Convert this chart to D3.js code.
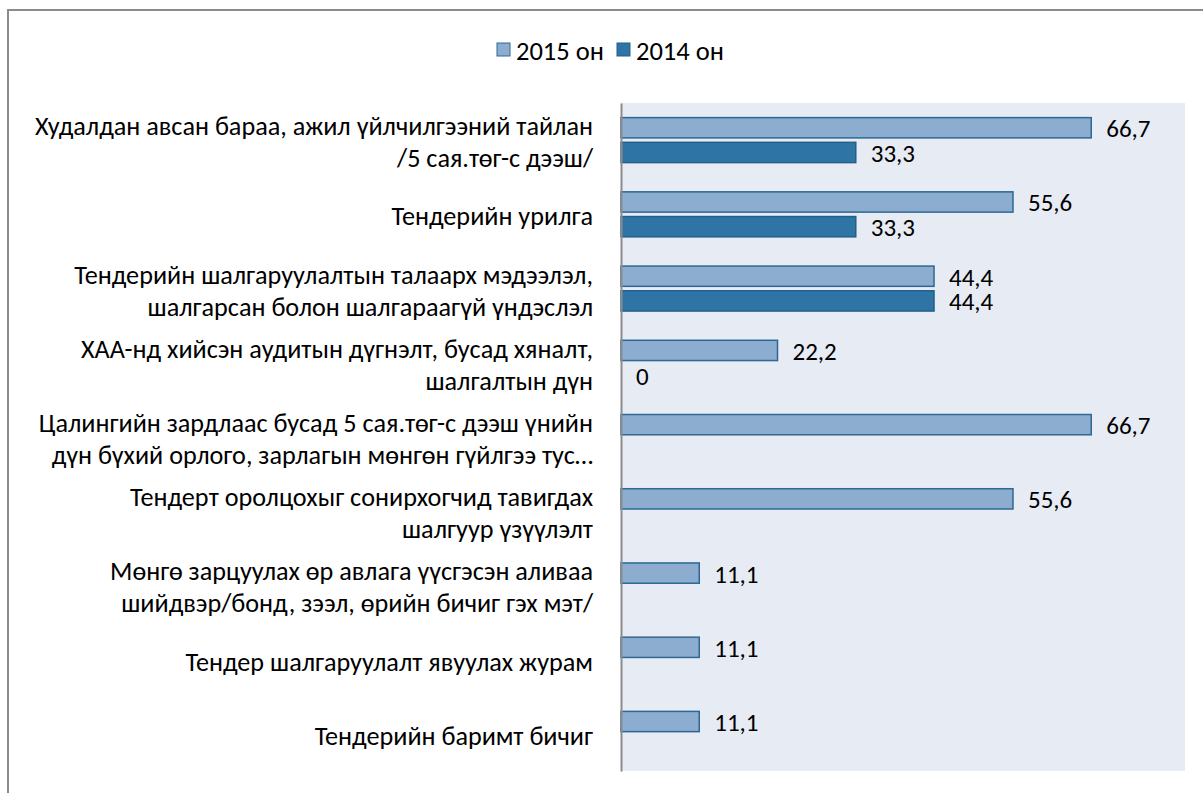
<!DOCTYPE html>
<html>
<head>
<meta charset="utf-8">
<script src="https://cdn.jsdelivr.net/npm/d3@7"></script>
<style>
  html, body { margin: 0; padding: 0; background: #fff; }
  svg { display: block; }
  text { font-family: "Carlito", "Open Sans", "Noto Sans", sans-serif; fill: #000; }
</style>
</head>
<body>
<svg id="chart" width="1203" height="793"></svg>
<script>
// Category labels (split into display lines)
const categories = [
  ["Худалдан авсан бараа, ажил үйлчилгээний тайлан", "/5 сая.төг-с дээш/"],
  ["Тендерийн урилга"],
  ["Тендерийн шалгаруулалтын талаарх мэдээлэл,", "шалгарсан болон шалгараагүй үндэслэл"],
  ["ХАА-нд хийсэн аудитын дүгнэлт, бусад хяналт,", "шалгалтын дүн"],
  ["Цалингийн зардлаас бусад 5 сая.төг-с дээш үнийн", "дүн бүхий орлого, зарлагын мөнгөн гүйлгээ тус…"],
  ["Тендерт оролцохыг сонирхогчид тавигдах", "шалгуур үзүүлэлт"],
  ["Мөнгө зарцуулах өр авлага үүсгэсэн аливаа", "шийдвэр/бонд, зээл, өрийн бичиг гэх мэт/"],
  ["Тендер шалгаруулалт явуулах журам"],
  ["Тендерийн баримт бичиг"]
];

const seriesNames = ["2015 он", "2014 он"];
const values2015 = [66.7, 55.6, 44.4, 22.2, 66.7, 55.6, 11.1, 11.1, 11.1];
const values2014 = [33.3, 33.3, 44.4, 0, null, null, null, null, null];

const fills = { "2015 он": "#8cacd0", "2014 он": "#2e75a6" };
const strokes = { "2015 он": "#2d6894", "2014 он": "#245f8a" };

const svg = d3.select("#chart");

// Outer chart frame
svg.append("rect")
  .attr("x", 8).attr("y", 10)
  .attr("width", 1203).attr("height", 800)
  .attr("fill", "none")
  .attr("stroke", "#8c8c8c")
  .attr("stroke-width", 2);

const plot = { left: 621, right: 1185, top: 103, bottom: 771 };

const x = d3.scaleLinear().domain([0, 80]).range([plot.left, plot.right]);
const y = d3.scaleBand().domain(d3.range(categories.length)).range([plot.top, plot.bottom]).padding(0);
const bw = y.bandwidth();
const inner = d3.scaleBand().domain(seriesNames)
  .range([bw * 0.197, bw * 0.803]).paddingInner(0.18);

// Plot area background
svg.append("rect")
  .attr("x", plot.left).attr("y", plot.top)
  .attr("width", plot.right - plot.left).attr("height", plot.bottom - plot.top)
  .attr("fill", "#e7ebf3");

// Build rows
const rows = [];
categories.forEach((c, i) => {
  rows.push({ i, s: "2015 он", v: values2015[i] });
  rows.push({ i, s: "2014 он", v: values2014[i] });
});
const present = rows.filter(d => d.v !== null);

// Bars
svg.append("g").selectAll("rect")
  .data(present.filter(d => d.v > 0))
  .join("rect")
  .attr("x", x(0))
  .attr("y", d => y(d.i) + inner(d.s))
  .attr("width", d => x(d.v) - x(0))
  .attr("height", inner.bandwidth())
  .attr("fill", d => fills[d.s])
  .attr("stroke", d => strokes[d.s])
  .attr("stroke-width", 1.5);

const fmt = v => (v === 0 ? "0" : d3.format(".1f")(v).replace(".", ","));

// Value labels
svg.append("g").selectAll("text")
  .data(present)
  .join("text")
  .attr("x", d => x(d.v) + 15)
  .attr("y", d => y(d.i) + inner(d.s) + inner.bandwidth() / 2 + 1)
  .attr("dominant-baseline", "central")
  .style("font-size", "25px")
  .text(d => fmt(d.v));

// Category axis line
const yAxis = d3.axisLeft(y).tickSize(0).tickFormat("");
const axisG = svg.append("g").attr("transform", `translate(${plot.left},0)`).call(yAxis);
axisG.select(".domain").attr("stroke", "#8c8c8c").attr("stroke-width", 2);

// Category labels
const labelG = svg.append("g");
const lineGap = 32;
const fontSize = 26.2;
categories.forEach((lines, i) => {
  const cy = y(i) + bw / 2 + 2;
  const t = labelG.append("text")
    .attr("text-anchor", "end")
    .style("font-size", fontSize + "px");
  lines.forEach((ln, k) => {
    t.append("tspan")
      .attr("x", 593)
      .attr("y", cy + (k - (lines.length - 1) / 2) * lineGap)
      .attr("dominant-baseline", "central")
      .text(ln);
  });
});

// Legend
const legend = svg.append("g");
const legendItems = [
  { s: "2015 он", x: 497 },
  { s: "2014 он", x: 617 }
];
legendItems.forEach(it => {
  legend.append("rect")
    .attr("x", it.x).attr("y", 43)
    .attr("width", 13).attr("height", 13)
    .attr("fill", fills[it.s])
    .attr("stroke", strokes[it.s]).attr("stroke-width", 1);
  legend.append("text")
    .attr("x", it.x + 19).attr("y", 51)
    .attr("dominant-baseline", "central")
    .style("font-size", "26.5px")
    .text(it.s);
});
</script>
</body>
</html>
